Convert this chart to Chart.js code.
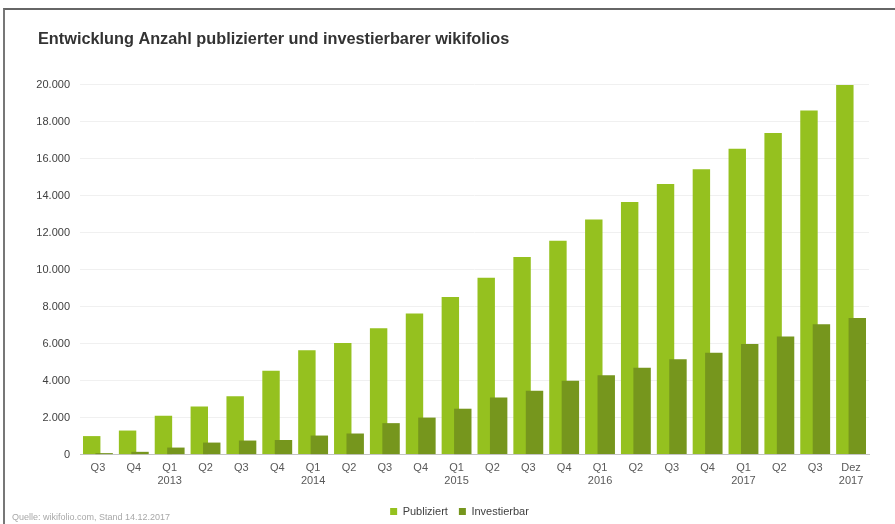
<!DOCTYPE html>
<html>
<head>
<meta charset="utf-8">
<script src="https://cdn.jsdelivr.net/npm/chart.js@4/dist/chart.umd.min.js"></script>
<style>
  html, body { margin: 0; padding: 0; background: #fff; }
  #wrap { position: relative; width: 895px; height: 524px; overflow: hidden; }
  #frame { position: absolute; left: 3px; top: 8px; right: -4px; bottom: -4px;
           border-top: 2px solid #666; border-left: 2px solid #777; pointer-events: none; }
  #foot { position: absolute; left: 12px; top: 512px; font: 9px "Liberation Sans", Arial, sans-serif; color: #a8a8a8; white-space: nowrap; }
  canvas { position: absolute; left: 0; top: 0; }
</style>
</head>
<body>
<div id="wrap">
  <canvas id="c" width="895" height="524"></canvas>
  <div id="frame"></div>
  <div id="foot">Quelle: wikifolio.com, Stand 14.12.2017</div>
</div>
<script>
const categories = [
  ["Q3"], ["Q4"], ["Q1","2013"], ["Q2"], ["Q3"], ["Q4"],
  ["Q1","2014"], ["Q2"], ["Q3"], ["Q4"],
  ["Q1","2015"], ["Q2"], ["Q3"], ["Q4"],
  ["Q1","2016"], ["Q2"], ["Q3"], ["Q4"],
  ["Q1","2017"], ["Q2"], ["Q3"], ["Dez","2017"]
];
const publiziert = [1000, 1300, 2100, 2600, 3150, 4530, 5640, 6030, 6830, 7620,
                    8520, 9560, 10680, 11560, 12700, 13650, 14620, 15420, 16530, 17380, 18600, 19980];
const investierbar = [80, 150, 380, 650, 760, 790, 1030, 1140, 1700, 2000,
                      2480, 3080, 3450, 3990, 4290, 4700, 5150, 5500, 5980, 6380, 7040, 7380];
const yTicks = [0, 2000, 4000, 6000, 8000, 10000, 12000, 14000, 16000, 18000, 20000];

const FONT = '"Liberation Sans", Arial, sans-serif';

const tweaks = {
  id: 'tweaks',
  afterLayout(chart) {
    const lg = chart.legend;
    if (lg) { lg.left += 9; lg.right += 9; }
    const tb = chart.titleBlock;
    if (tb) { tb.left += 6; tb.right += 6; }
  },
  beforeDatasetsDraw(chart) {
    const ctx = chart.ctx;
    [0, 1].forEach(i => {
      const meta = chart.getDatasetMeta(i);
      if (!meta.hidden) {
        ctx.save();
        meta.controller.draw();
        ctx.restore();
      }
    });
    return false;
  }
};

new Chart(document.getElementById('c'), {
  type: 'bar',
  data: {
    labels: categories,
    datasets: [
      { label: 'Publiziert', data: publiziert, backgroundColor: '#95c11f',
        categoryPercentage: 0.694, barPercentage: 1.4 },
      { label: 'Investierbar', data: investierbar, backgroundColor: '#76961d',
        categoryPercentage: 0.694, barPercentage: 1.4 }
    ]
  },
  options: {
    responsive: false,
    animation: false,
    layout: { padding: { left: 32, right: 26, top: 0, bottom: 0 } },
    plugins: {
      title: {
        display: true,
        text: 'Entwicklung Anzahl publizierter und investierbarer wikifolios',
        align: 'start',
        color: '#333333',
        font: { family: FONT, size: 16.3, weight: 'bold' },
        padding: { top: 30, bottom: 35 }
      },
      legend: {
        position: 'bottom',
        maxHeight: 29,
        labels: {
          boxWidth: 7, boxHeight: 7,
          color: '#404040',
          font: { family: FONT, size: 11 },
          padding: 11
        }
      },
      tooltip: { enabled: false }
    },
    scales: {
      x: {
        grid: { display: false, drawTicks: false },
        border: { display: true, color: '#c4c4c4', width: 1 },
        ticks: { color: '#595959', font: { family: FONT, size: 11 }, padding: 7, maxRotation: 0, autoSkip: false }
      },
      y: {
        min: 0, max: 20000,
        afterBuildTicks(scale) { scale.ticks = yTicks.map(v => ({ value: v })); },
        afterFit(scale) { scale.width = 48; },
        grid: { color: '#f0f0f0', drawTicks: false },
        border: { display: false },
        ticks: {
          color: '#404040', font: { family: FONT, size: 11 }, padding: 10,
          callback: v => v.toLocaleString('de-DE')
        }
      }
    }
  },
  plugins: [tweaks]
});
</script>
</body>
</html>
